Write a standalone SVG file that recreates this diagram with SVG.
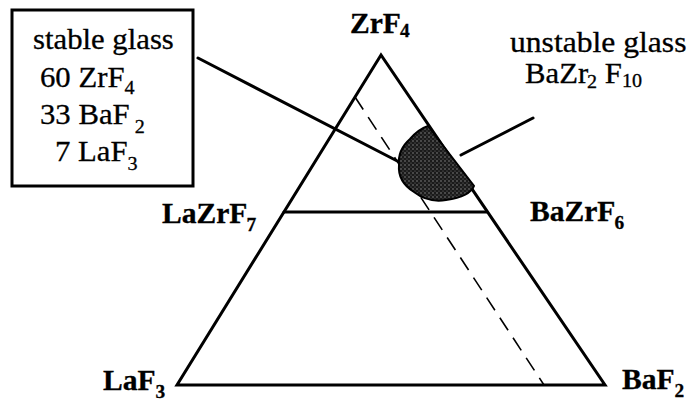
<svg xmlns="http://www.w3.org/2000/svg" width="690" height="408" viewBox="0 0 690 408">
<defs>
<pattern id="stip" width="4" height="4" patternUnits="userSpaceOnUse">
<rect width="4" height="4" fill="#1a1a1a"/>
<circle cx="1" cy="1" r="0.7" fill="#9a9a9a"/>
<circle cx="3" cy="3" r="0.6" fill="#777"/>
</pattern>
</defs>
<style>
.ln{stroke:#000;stroke-width:3;fill:none;stroke-linecap:round;stroke-linejoin:miter}
.dash{stroke:#000;stroke-width:1.6;fill:none;stroke-dasharray:15 9}
.t{font-family:"Liberation Serif","Times New Roman",serif;font-size:29px;fill:#000;stroke:#000;stroke-width:0.3}
.b{font-weight:bold}
.s{font-size:19px}
</style>
<rect width="690" height="408" fill="#fff"/>
<g id="connectors">
<line class="ln" x1="198" y1="58" x2="405" y2="165"/>
<line class="ln" x1="461" y1="155" x2="533" y2="118"/>
<line class="dash" x1="355" y1="97" x2="544" y2="385"/>
<line class="ln" x1="284" y1="212" x2="487" y2="212"/>
</g>
<g id="triangle">
<polygon class="ln" points="381,55 177,385 605,385"/>
</g>
<g id="blob">
<path d="M428,126 L474,186 C471,194 460,198 446,200 C434,202 423,199 414,192 C403,185 398,176 399,165 C398,155 402,146 410,139 C416,132 422,128 428,126 Z" fill="url(#stip)" stroke="#000" stroke-width="2"/>
</g>
<g id="stable-box">
<rect class="ln" x="12" y="10" width="181" height="176"/>
<g transform="translate(33,49) scale(1.06,1)"><text class="t">stable glass</text></g>
<g transform="translate(40,87) scale(1.06,1)"><text class="t">60 ZrF<tspan class="s" dy="7">4</tspan></text></g>
<g transform="translate(40,124) scale(1.06,1)"><text class="t">33 BaF<tspan class="s" dy="9"> 2</tspan></text></g>
<g transform="translate(55,161) scale(1.06,1)"><text class="t">7 LaF<tspan class="s" dy="9">3</tspan></text></g>
</g>
<g id="unstable-label">
<g transform="translate(510,52) scale(1.09,1)"><text class="t">unstable glass</text></g>
<g transform="translate(525,83) scale(1.06,1)"><text class="t">BaZr<tspan class="s" dx="-1" dy="5">2</tspan><tspan dy="-5"> F</tspan><tspan class="s" dy="4">10</tspan></text></g>
</g>
<g id="ZrF4">
<g transform="translate(350,33) scale(1.02,1)"><text class="t b">ZrF<tspan class="s" dx="-1" dy="4">4</tspan></text></g>
</g>
<g id="LaZrF7">
<g transform="translate(162,223) scale(1.02,1)"><text class="t b">LaZrF<tspan class="s" dx="-1" dy="8">7</tspan></text></g>
</g>
<g id="BaZrF6">
<g transform="translate(530,221) scale(1.02,1)"><text class="t b">BaZrF<tspan class="s" dx="-1" dy="8">6</tspan></text></g>
</g>
<g id="LaF3">
<g transform="translate(103,390) scale(1.02,1)"><text class="t b">LaF<tspan class="s" dy="8">3</tspan></text></g>
</g>
<g id="BaF2">
<g transform="translate(622,389) scale(1.02,1)"><text class="t b">BaF<tspan class="s" dy="8">2</tspan></text></g>
</g>
</svg>
